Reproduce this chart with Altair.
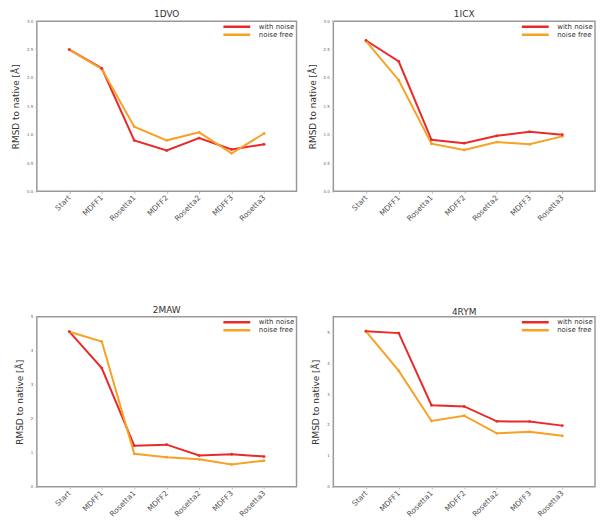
import altair as alt
import pandas as pd

steps = ["Start", "MDFF1", "Rosetta1", "MDFF2", "Rosetta2", "MDFF3", "Rosetta3"]
series_names = ["with noise", "noise free"]

p1_title = "1DVO"
p1_noise = [2.50, 2.17, 0.90, 0.72, 0.94, 0.74, 0.83]
p1_free = [2.50, 2.16, 1.14, 0.90, 1.04, 0.67, 1.02]

p2_title = "1ICX"
p2_noise = [2.66, 2.29, 0.91, 0.85, 0.98, 1.05, 1.00]
p2_free = [2.65, 1.96, 0.84, 0.73, 0.87, 0.83, 0.97]

p3_title = "2MAW"
p3_noise = [4.56, 3.49, 1.21, 1.24, 0.92, 0.96, 0.89]
p3_free = [4.56, 4.27, 0.97, 0.87, 0.81, 0.66, 0.77]

p4_title = "4RYM"
p4_noise = [5.03, 4.97, 2.64, 2.60, 2.12, 2.11, 1.98]
p4_free = [5.03, 3.75, 2.13, 2.30, 1.73, 1.78, 1.65]

colors = ["#ea2a2a", "#f7a125"]
H = 171
FONT = "DejaVu Sans"


def panel(title, noise, free, ymax, ticks, fmt, width):
    rows = []
    for s, v in zip(steps, noise):
        rows.append({"step": s, "rmsd": v, "series": series_names[0]})
    for s, v in zip(steps, free):
        rows.append({"step": s, "rmsd": v, "series": series_names[1]})
    df = pd.DataFrame(rows)
    x = alt.X("step:N", sort=steps, title=None,
              scale=alt.Scale(type="point", padding=1),
              axis=alt.Axis(labelAngle=-45, labelFontSize=7.5, labelColor="#555",
                            labelAlign="right", labelBaseline="middle", labelPadding=3,
                            domain=False, ticks=True, tickSize=2, tickColor="#bbb"))
    y = alt.Y("rmsd:Q", title="RMSD to native [Å]",
              scale=alt.Scale(domain=[0, ymax], nice=False, zero=True),
              axis=alt.Axis(values=ticks, format=fmt, labelFontSize=4, labelColor="#666",
                            titleFontSize=9, titleFontWeight="normal", titleColor="#333",
                            titlePadding=6, domain=False, grid=False, tickSize=2,
                            tickColor="#bbb", labelPadding=2))
    color = alt.Color("series:N",
                      scale=alt.Scale(domain=series_names, range=colors),
                      legend=alt.Legend(title=None, orient="top-right", offset=2,
                                        symbolType="stroke", symbolStrokeWidth=2.5,
                                        symbolSize=729, labelFontSize=7, labelColor="#333",
                                        clipHeight=7, rowPadding=0, labelOffset=7,
                                        padding=0))
    base = alt.Chart(df).encode(x=x, y=y, color=color, order=alt.Order("series:N"))
    lines = base.mark_line(strokeWidth=2)
    pts = base.mark_circle(size=8, opacity=1)
    return (lines + pts).properties(
        width=width, height=H,
        title=alt.TitleParams(title, fontSize=9, fontWeight="normal", color="#333", offset=0),
    )


c1 = panel(p1_title, p1_noise, p1_free, 3.0, [0, 0.5, 1, 1.5, 2, 2.5, 3], ".1f", 261)
c2 = panel(p2_title, p2_noise, p2_free, 3.0, [0, 0.5, 1, 1.5, 2, 2.5, 3], ".1f", 263)
c3 = panel(p3_title, p3_noise, p3_free, 5.0, [0, 1, 2, 3, 4, 5], "d", 261)
c4 = panel(p4_title, p4_noise, p4_free, 5.5, [0, 1, 2, 3, 4, 5], "d", 263)

chart = alt.concat(
    c1, c2, c3, c4, columns=2, bounds="flush",
    spacing={"row": 126, "column": 37},
).resolve_scale(color="independent").configure(
    font=FONT,
    padding={"left": 2, "top": 0, "right": 0, "bottom": 0},
    background="white",
).configure_view(stroke="#999", strokeWidth=1.5)

chart.save("out.html", embed_options={"renderer": "svg", "actions": False})
